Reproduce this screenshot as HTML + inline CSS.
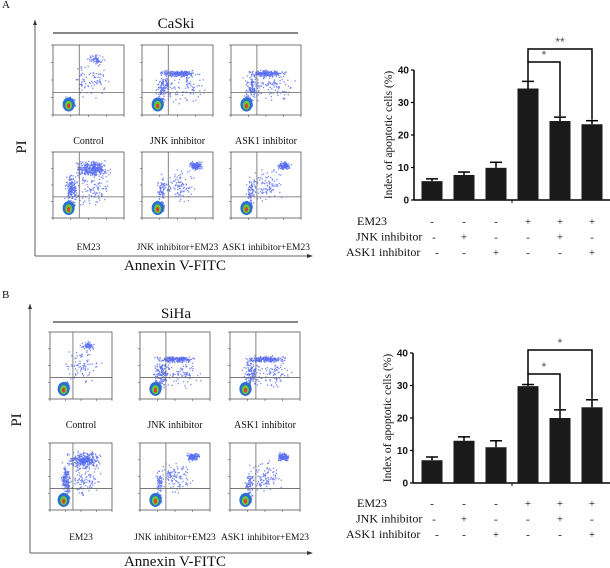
<!DOCTYPE html>
<html><head><meta charset="utf-8"><style>
body{margin:0;background:#fff;width:610px;height:568px;overflow:hidden}
svg{display:block}
text{font-family:"Liberation Serif",serif;fill:#111}
.tk{font-family:"Liberation Sans",sans-serif;font-weight:bold;font-size:10px}
</style></head><body>
<svg id="fig" width="610" height="568" viewBox="0 0 610 568"></svg>
<script>
const cats=["c1","c2","c3","c4","c5","c6"];
const valsA=[5.8,7.7,9.9,34.3,24.3,23.3];
const errA=[0.7,0.9,1.7,2.2,1.2,1.1];
const valsB=[7.0,13.0,11.0,29.8,20.0,23.3];
const errB=[1.0,1.2,2.0,0.5,2.5,2.3];
const yTicks=[0,10,20,30,40];
const em23=["-","-","-","+","+","+"];
const jnk=["-","+","-","-","+","-"];
const ask1=["-","-","+","-","-","+"];
const topLabels=["Control","JNK inhibitor","ASK1 inhibitor"];
const botLabels=["EM23","JNK inhibitor+EM23","ASK1 inhibitor+EM23"];

const NS="http://www.w3.org/2000/svg";
const svg=document.getElementById('fig');
function el(t,a,p){const e=document.createElementNS(NS,t);for(const k in a)e.setAttribute(k,a[k]);(p||svg).appendChild(e);return e;}
function txt(x,y,s,size,anchor,name,extra){const e=el('text',Object.assign({x:x,y:y,'font-size':size,'text-anchor':anchor||'start'},extra||{}));e.textContent=s;


return e;}

let seed=7;function rnd(){seed=(seed*16807)%2147483647;return seed/2147483647;}
function gauss(){return (rnd()+rnd()+rnd()-1.5)/1.5;}

function flowPlot(x,y,w,h,kind,name){
  const g=el('g',{});
  
  
  el('rect',{x:x,y:y,width:w,height:h,fill:'#fff',stroke:'#555','stroke-width':0.8},g);
  const qx=x+w*0.37,qy=y+h*0.68;
  const clusters=[[0.24,0.82,0.08,0.1,200]];
  if(kind==0)clusters.push([0.6,0.2,0.15,0.1,60],[0.5,0.5,0.35,0.3,80]);
  if(kind==1)clusters.push([0.5,0.4,0.35,0.06,200],[0.3,0.6,0.15,0.25,120],[0.6,0.6,0.35,0.3,80]);
  if(kind==2)clusters.push([0.55,0.25,0.3,0.15,320],[0.25,0.55,0.1,0.3,150],[0.55,0.55,0.35,0.35,100]);
  if(kind==3)clusters.push([0.75,0.2,0.12,0.08,120],[0.5,0.5,0.3,0.3,100],[0.27,0.6,0.08,0.25,60]);
  for(const c of clusters){for(let i=0;i<c[4];i++){const px=x+w*(c[0]+gauss()*c[2]),py=y+h*(c[1]+gauss()*c[3]);
    if(px>x&&px<x+w&&py>y&&py<y+h)el('rect',{x:px,y:py,width:1.3,height:1.3,fill:'#5a6ef0','fill-opacity':0.8},g);}}
  el('ellipse',{cx:x+w*0.22,cy:y+h*0.85,rx:6,ry:7,fill:'#2a6fd0'},g);
  el('ellipse',{cx:x+w*0.22,cy:y+h*0.86,rx:3.5,ry:4.5,fill:'#6c3'},g);
  el('ellipse',{cx:x+w*0.22,cy:y+h*0.87,rx:1.5,ry:2.5,fill:'#e33'},g);
  el('line',{x1:qx,y1:y,x2:qx,y2:y+h,stroke:'#666','stroke-width':0.8},g);
  el('line',{x1:x,y1:qy,x2:x+w,y2:qy,stroke:'#666','stroke-width':0.8},g);
  for(let i=0;i<5;i++){el('line',{x1:x-2,y1:y+h*i/4,x2:x,y2:y+h*i/4,stroke:'#555','stroke-width':0.6},g);
    el('line',{x1:x+w*i/4,y1:y+h,x2:x+w*i/4,y2:y+h+2,stroke:'#555','stroke-width':0.6},g);}
}

function flowPanel(L,ly,ax,ayTop,ayBot,title,titleY,lineY,tops,bots,topY,topH,botY,botH,labY1,labY2,piY,annY,pfx){
  txt(2,ly,L,11,'start','panel-label-'+L.toLowerCase());
  el('line',{x1:ax,y1:ayTop,x2:ax,y2:ayBot,stroke:'#333','stroke-width':0.8});
  el('polygon',{points:`${ax-2},${ayTop+5} ${ax+2},${ayTop+5} ${ax},${ayTop}`,fill:'#333'});
  el('line',{x1:ax,y1:ayBot,x2:312,y2:ayBot,stroke:'#333','stroke-width':0.8});
  el('polygon',{points:`307,${ayBot-2} 307,${ayBot+2} 313,${ayBot}`,fill:'#333'});
  txt(176,titleY,title,15,'middle',pfx+'-cell-line-title');
  el('line',{x1:53,y1:lineY,x2:298,y2:lineY,stroke:'#111','stroke-width':1});
  for(let i=0;i<3;i++){flowPlot(tops[i],topY,tops[i+3],topH,i==0?0:1,pfx+'-flow-plot-top-'+(i+1));
    txt(tops[i]+tops[i+3]/2,labY1,topLabels[i],10,'middle',pfx+'-plot-label-top-'+(i+1));}
  for(let i=0;i<3;i++){flowPlot(bots[i],botY,bots[i+3],botH,i==0?2:3,pfx+'-flow-plot-bottom-'+(i+1));
    txt(bots[i]+bots[i+3]/2,labY2,botLabels[i],9.5,'middle',pfx+'-plot-label-bottom-'+(i+1));}
  txt(0,0,'PI',15,'middle',pfx+'-pi-axis-title',{transform:`translate(${ax-9},${piY}) rotate(-90)`});
  txt(175,annY,'Annexin V-FITC',15,'middle',pfx+'-annexin-axis-title');
}
flowPanel('A',8,35,20,256,'CaSki',28,33,[53,142,231,71,71,70],[53,142,231,71,71,70],45,70,152,66,144,250,147,270,'a');
flowPanel('B',298,30,304,553,'SiHa',318,322,[50,140,230,62,70,70],[50,140,230,62,70,70],332,67,443,67,428,540,420,566,'b');

function barChart(vals,errs,x0,y0,pxPer10,brk1,brk2,star2,rowY,pfx){
  const xs=i=>432+i*32;
  const ys=v=>y0-v/10*pxPer10;
  const g=el('g',{});
  
  
  el('line',{x1:x0,y1:ys(40),x2:x0,y2:y0,stroke:'#000','stroke-width':1.5},g);
  el('line',{x1:x0,y1:y0,x2:610,y2:y0,stroke:'#000','stroke-width':1.5},g);
  el('line',{x1:512,y1:y0,x2:512,y2:y0+3,stroke:'#000','stroke-width':1},g);
  yTicks.forEach(t=>{el('line',{x1:x0-3,y1:ys(t),x2:x0,y2:ys(t),stroke:'#000','stroke-width':1.2},g);
    txt(x0-5,ys(t)+3.5,String(t),10,'end',pfx+'-y-tick-'+t,{class:'tk'});});
  txt(0,0,'Index of apoptotic cells (%)',11.5,'middle',pfx+'-y-axis-title',{transform:`translate(${x0-22},${ys(20)}) rotate(-90)`});
  vals.forEach((v,i)=>{const cx=xs(i);
    const r=el('rect',{x:cx-10.5,y:ys(v),width:21,height:y0-ys(v),fill:'#1a1a1a'},g);
    
    
    const top=ys(v+errs[i]);
    el('line',{x1:cx,y1:ys(v),x2:cx,y2:top,stroke:'#000','stroke-width':1.5},g);
    el('line',{x1:cx-6,y1:top,x2:cx+6,y2:top,stroke:'#000','stroke-width':1.5},g);});
  const bt=i=>ys(vals[i]+errs[i]);
  el('polyline',{points:`${xs(3)},${bt(3)} ${xs(3)},${brk1} ${xs(4)},${brk1} ${xs(4)},${bt(4)-1}`,fill:'none',stroke:'#000','stroke-width':1.5},g);
  el('polyline',{points:`${xs(3)},${brk1} ${xs(3)},${brk2} ${xs(5)},${brk2} ${xs(5)},${bt(5)-1}`,fill:'none',stroke:'#000','stroke-width':1.5},g);
  txt((xs(3)+xs(4))/2,brk1-3,'*',12,'middle',pfx+'-sig-star-1',{style:'font-family:Liberation Sans;fill:#555'});
  txt((xs(3)+xs(5))/2,brk2-3,star2,12,'middle',pfx+'-sig-star-2',{style:'font-family:Liberation Sans;fill:#555'});
  const rows=[['EM23',em23,357],['JNK inhibitor',jnk,356],['ASK1 inhibitor',ask1,346]];
  rows.forEach((r,k)=>{const y=rowY+k*15.5;
    txt(r[2],y+4,r[0],12,'start',pfx+'-row-label-'+k);
    r[1].forEach((s,i)=>{
      const cx=(i==0&&k>0)?(k==1?434:437):xs(i);
      txt(cx,y+4,s,11,'middle',pfx+'-cell-'+k+'-'+i);});
  });
}
barChart(valsA,errA,414,200,32.5,62,49,'**',221,'a');
barChart(valsB,errB,413,483,32.5,374,350,'*',503,'b');
</script>
</body></html>
